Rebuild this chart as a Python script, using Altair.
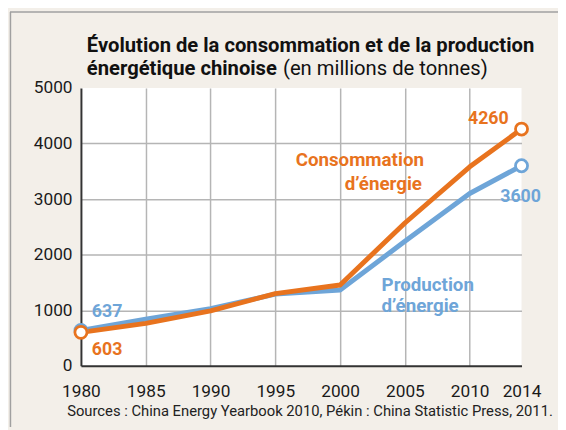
import altair as alt
import pandas as pd

# ---- data ----
years = [1980, 1985, 1990, 1995, 2000, 2005, 2010, 2014]
consommation = [603, 765, 990, 1300, 1455, 2570, 3580, 4260]
production = [637, 840, 1030, 1290, 1365, 2240, 3100, 3600]
series = ["Consommation", "Production"]
x_ticks = [1980, 1985, 1990, 1995, 2000, 2005, 2010, 2014]
y_ticks = [0, 1000, 2000, 3000, 4000, 5000]

title_1 = "Évolution de la consommation et de la production"
title_2_bold = "énergétique chinoise"
title_2_normal = "(en millions de tonnes)"
source_text = "Sources : China Energy Yearbook 2010, Pékin : China Statistic Press, 2011."

ORANGE = "#e8731e"
BLUE = "#6ea5d8"
BG = "#f3efe9"
FONT = "Roboto"

W, H = 447, 282

df = pd.DataFrame({
    "annee": years * 2,
    "valeur": consommation + production,
    "serie": [series[0]] * len(years) + [series[1]] * len(years),
})

x_enc = alt.X(
    "annee:Q",
    scale=alt.Scale(domain=[years[0], years[-1]], nice=False, zero=False),
    axis=alt.Axis(
        values=x_ticks, format="d", title=None, ticks=False,
        labelFont=FONT, labelFontSize=17.5, labelColor="#1a1a1a", labelPadding=17,
        domainColor="#333333", domainWidth=2,
        gridColor="#b5b5b5", gridWidth=1.5,
        gridOpacity={"condition": {"test": "datum.value == 1980 || datum.value == 2014", "value": 0}, "value": 1},
        labelFlush=False,
    ),
)
y_enc = alt.Y(
    "valeur:Q",
    scale=alt.Scale(domain=[0, 5000], nice=False),
    axis=alt.Axis(
        values=y_ticks, format="d", title=None, ticks=False,
        labelFont=FONT, labelFontSize=17.5, labelColor="#1a1a1a", labelPadding=9,
        domainColor="#333333", domainWidth=2,
        gridColor="#b5b5b5", gridWidth=1.5,
        gridOpacity={"condition": {"test": "datum.value == 0 || datum.value == 5000", "value": 0}, "value": 1},
    ),
)

base = alt.Chart(df).encode(x=x_enc, y=y_enc)

prod = base.transform_filter(alt.datum.serie == "Production")
cons = base.transform_filter(alt.datum.serie == "Consommation")
ends = f"datum.annee == {years[0]} || datum.annee == {years[-1]}"

prod_line = prod.mark_line(color=BLUE, strokeWidth=5, strokeJoin="round")
prod_pts = prod.transform_filter(ends).mark_point(
    shape="circle", size=150, filled=False, fill="white", fillOpacity=1,
    stroke=BLUE, strokeWidth=2.8, opacity=1)
cons_line = cons.mark_line(color=ORANGE, strokeWidth=5, strokeJoin="round")
cons_pts = cons.transform_filter(ends).mark_point(
    shape="circle", size=150, filled=False, fill="white", fillOpacity=1,
    stroke=ORANGE, strokeWidth=2.8, opacity=1)


def value_label(serie, idx, color, dx, dy, align):
    d = pd.DataFrame({
        "annee": [years[idx]],
        "valeur": [(consommation if serie == "Consommation" else production)[idx]],
    })
    d["txt"] = d["valeur"].astype(str)
    return alt.Chart(d).mark_text(
        font=FONT, fontSize=18, fontWeight="bold", color=color,
        dx=dx, dy=dy, align=align, baseline="alphabetic",
    ).encode(x=alt.X("annee:Q"), y=alt.Y("valeur:Q"), text="txt:N")


lbl_637 = value_label("Production", 0, BLUE, 11, -14, "left")
lbl_603 = value_label("Consommation", 0, ORANGE, 11, 23, "left")
lbl_4260 = value_label("Consommation", -1, ORANGE, -13, -5, "right")
lbl_3600 = value_label("Production", -1, BLUE, -1, 37, "center")

one = pd.DataFrame({"k": [0]})


def free_text(txt, x, y, color, size, weight="normal", align="left"):
    return alt.Chart(one).mark_text(
        text=txt, font=FONT, fontSize=size, fontWeight=weight, color=color,
        align=align, baseline="alphabetic",
    ).encode(x=alt.value(x), y=alt.value(y))


serie_lbls = [
    free_text("Consommation", 348, 79, ORANGE, 19, "bold", "right"),
    free_text("d\u2019énergie", 346, 104, ORANGE, 19, "bold", "right"),
    free_text("Production", 305, 206, BLUE, 19, "bold", "left"),
    free_text("d\u2019énergie", 305, 227, BLUE, 19, "bold", "left"),
]

titles = [
    free_text(title_1, 6, -36, "#111111", 20.5, "bold"),
    free_text(title_2_bold, 6, -13, "#111111", 20.5, "bold"),
    free_text(title_2_normal, 205, -13, "#111111", 20.5, "normal"),
    free_text(source_text, -14, 333, "#222222", 15, "normal"),
]

border_top = alt.Chart(one).mark_rule(color="#a0a0a0", strokeWidth=1.5).encode(
    x=alt.value(-72), x2=alt.value(W + 37), y=alt.value(-77))
border_left = alt.Chart(one).mark_rule(color="#a0a0a0", strokeWidth=1.5).encode(
    x=alt.value(-71.5), y=alt.value(-77), y2=alt.value(H + 62))

chart = alt.layer(
    border_top, border_left,
    prod_line, cons_line, prod_pts, cons_pts,
    lbl_637, lbl_603, lbl_4260, lbl_3600,
    *serie_lbls, *titles,
).properties(
    width=W, height=H,
    background=BG,
    autosize=alt.AutoSizeParams(type="none"),
    padding={"left": 74, "top": 78, "right": 37, "bottom": 62},
).configure_view(fill="white", strokeWidth=0)

chart.save("out.html", embed_options={"renderer": "svg", "actions": False})
